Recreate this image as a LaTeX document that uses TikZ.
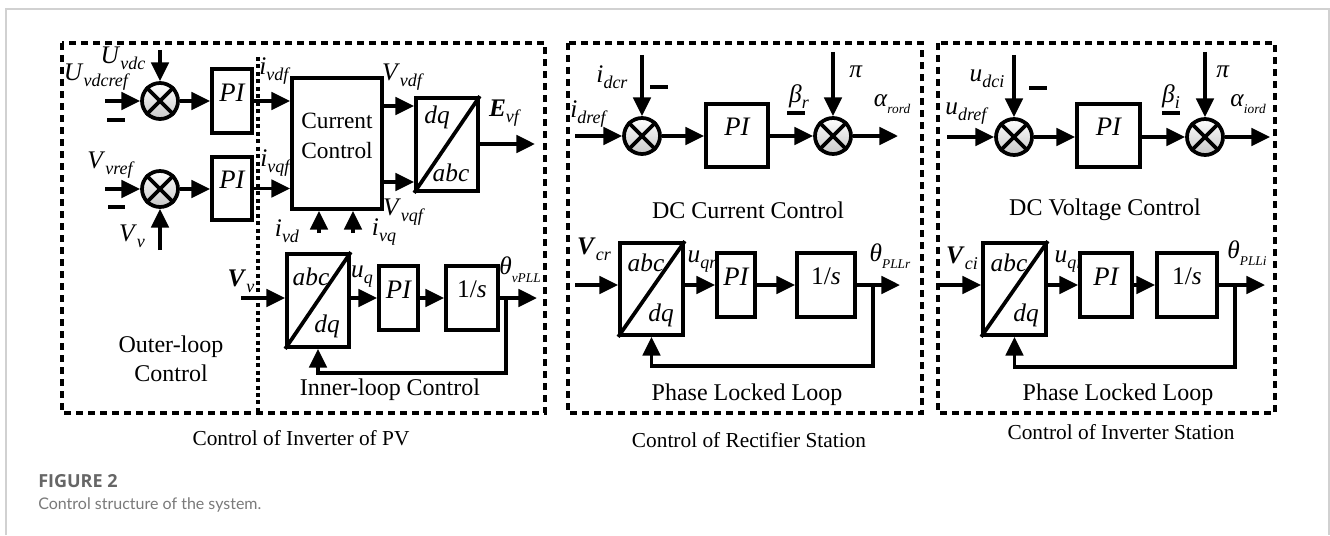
\documentclass[tikz,border=0pt]{standalone}
\usepackage{fontspec}
\setmainfont{Liberation Serif}
\newfontfamily\capfont{Lato}
\newfontfamily\figfont{Open Sans}
\usetikzlibrary{arrows.meta,fit}

% italic symbol with italic subscript
\newcommand{\symsub}[2]{\textit{#1}\raisebox{-0.24em}{\fontsize{13.5pt}{13.5pt}\selectfont\textit{#2}}}
\newcommand{\bsymsub}[2]{\textbf{\textit{#1}}\raisebox{-0.24em}{\fontsize{13.5pt}{13.5pt}\selectfont\textit{#2}}}
\newcommand{\symtiny}[2]{\textit{#1}\raisebox{-0.3em}{\fontsize{10pt}{10pt}\selectfont\textit{#2}}}

\begin{document}
\begin{tikzpicture}[x=0.75pt,y=-0.75pt,
  wire/.style={line width=2.8pt,-{Triangle[length=14pt,width=13pt]}},
  plain/.style={line width=2.8pt},
  minus/.style={line width=3.4pt},
  blk/.style={draw,line width=2.8pt,rectangle,inner sep=0pt,fill=white,
    font=\fontsize{20pt}{20pt}\selectfont\itshape},
  sum/.style={draw,circle,line width=2.8pt,minimum size=27pt,inner sep=0pt,
    top color=white,bottom color=black!22},
  lbl/.style={inner sep=0pt,font=\fontsize{19pt}{19pt}\selectfont},
  itxt/.style={inner sep=0pt,font=\fontsize{19pt}{19pt}\selectfont\itshape},
  rtxt/.style={inner sep=0pt,font=\fontsize{18pt}{22pt}\selectfont},
  captxt/.style={inner sep=0pt,font=\fontsize{16pt}{16pt}\selectfont},
  dbox/.style={line width=3pt,dash pattern=on 5.4pt off 3.6pt},
  dline/.style={line width=2.4pt,dash pattern=on 3pt off 2.6pt},
]
\useasboundingbox (0,0) rectangle (1330,535);
\fill[white] (0,0) rectangle (1330,535);
\draw[black!18,line width=1.5pt] (6,535) -- (6,9) -- (1329,9) -- (1329,535);

% ---------- frames ----------
\draw[dbox] (62,43) rectangle (545,413);
\draw[dbox] (568,43) rectangle (922,413);
\draw[dbox] (938,43) rectangle (1275,413);
\draw[dline] (258,57) -- (258,413);

% ---------- PV inverter: outer loops ----------
\node[sum] (s1) at (160,101) {};
\node[sum] (s2) at (160,189) {};
\node[blk,fit={(212,69)(252,133)}] (pi1) {PI};
\node[blk,fit={(212,157)(252,220)}] (pi2) {PI};
\node[blk,fit={(292,78)(382,209)},align=center,
  font=\fontsize{17.5pt}{22pt}\selectfont] (cc) {Current\\Control};
\node[blk,fit={(416,98)(478,191)}] (t1) {};
\draw[plain] (t1.south west) -- (t1.north east);
\node[itxt] (t1a) at (437,117) {dq};
\node[itxt] (t1b) at (451,173) {abc};

\draw[plain] (s1.45) -- (s1.225) (s1.135) -- (s1.315);
\draw[plain] (s2.45) -- (s2.225) (s2.135) -- (s2.315);

\coordinate (uvref) at (105,101);
\coordinate (uvdc) at (160,50);
\coordinate (vvref) at (105,189);
\coordinate (vvmeas) at (160,250);
\draw[wire] (uvref) -- (s1);
\draw[wire] (uvdc) -- (s1);
\draw[wire] (vvref) -- (s2);
\draw[wire] (vvmeas) -- (s2);
\draw[wire] (s1.east) -- (s1.east -| pi1.west);
\draw[wire] (s2.east) -- (s2.east -| pi2.west);
\draw[wire] (pi1.east) -- (pi1.east -| cc.west);
\draw[wire] (pi2.east) -- (pi2.east -| cc.west);
\draw[wire] (cc.east |- 0,106) -- (t1.west |- 0,106);
\draw[wire] (cc.east |- 0,182) -- (t1.west |- 0,182);
\coordinate (evf) at (535,144);
\draw[wire] (t1.east |- evf) -- (evf);
\coordinate (ivdin) at (319,233);
\coordinate (ivqin) at (353,233);
\draw[wire] (ivdin) -- (ivdin |- cc.south);
\draw[wire] (ivqin) -- (ivqin |- cc.south);
\draw[minus] (107,120) -- (125,120);
\draw[minus] (108,207) -- (125,207);

\node[lbl] (lUvdc) at (123,58) {\symsub{U}{vdc}};
\node[lbl] (lUref) at (97,77) {\symsub{U}{vdcref}};
\node[lbl] (lVref) at (111,165) {\symsub{V}{vref}};
\node[lbl] (lVv) at (132,236) {\symsub{V}{v}};
\node[lbl] (livdf) at (275,71) {\symsub{i}{vdf}};
\node[lbl] (livqf) at (276,163) {\symsub{i}{vqf}};
\node[lbl] (lVvdf) at (403,77) {\symsub{V}{vdf}};
\node[lbl] (lVvqf) at (404,212) {\symsub{V}{vqf}};
\node[lbl] (lEvf) at (505,113) {\bsymsub{E}{vf}};
\node[lbl] (livd) at (287,231) {\symsub{i}{vd}};
\node[lbl] (livq) at (384,232) {\symsub{i}{vq}};

% ---------- PV inverter: PLL ----------
\node[blk,fit={(287,254)(349,347)}] (t2) {};
\draw[plain] (t2.south west) -- (t2.north east);
\node[itxt] (t2a) at (311,277) {abc};
\node[itxt] (t2b) at (327,326) {dq};
\node[blk,fit={(379,266)(418,330)}] (pi3) {PI};
\node[blk,fit={(446,266)(498,330)},font=\fontsize{19pt}{19pt}\selectfont] (is1) {1/\textit{s}};
\coordinate (vvin) at (241,298);
\coordinate (th1) at (537,298);
\coordinate (fb1) at (506,298);
\draw[wire] (vvin) -- (vvin -| t2.west);
\draw[wire] (t2.east |- pi3) -- (pi3.west);
\draw[wire] (pi3.east) -- (is1.west);
\draw[wire] (is1.east) -- (th1);
\draw[wire] (fb1) -- (fb1 |- 0,373) -| (t2.south);
\node[lbl] (lVv2) at (241,281) {\bsymsub{V}{v}};
\node[lbl] (luq) at (362,277) {\symsub{u}{q}};
\node[lbl] (lth1) at (520,270) {\symtiny{θ}{vPLL}};
\node[rtxt,align=center] (lout) at (171,359) {Outer-loop\\Control};
\node[rtxt] (linn) at (390,390) {Inner-loop Control};

% ---------- rectifier station ----------
\node[sum] (s3) at (642,136) {};
\node[sum] (s4) at (833,136) {};
\draw[plain] (s3.45) -- (s3.225) (s3.135) -- (s3.315);
\draw[plain] (s4.45) -- (s4.225) (s4.135) -- (s4.315);
\node[blk,fit={(706,104)(768,167)}] (pi4) {PI};
\coordinate (idref) at (575,136);
\coordinate (idcr) at (642,55);
\coordinate (pir) at (833,52);
\coordinate (aro) at (898,136);
\draw[wire] (idref) -- (s3);
\draw[wire] (idcr) -- (s3);
\draw[wire] (s3.east) -- (s3.east -| pi4.west);
\draw[wire] (pi4.east |- s4) -- (s4);
\draw[wire] (pir) -- (s4);
\draw[wire] (s4) -- (aro);
\draw[minus] (650,87) -- (668,87);
\draw[minus] (787,113) -- (805,113);
\node[lbl] (lidcr) at (612,77) {\symsub{i}{dcr}};
\node[lbl] (lidref) at (589,114) {\symsub{i}{dref}};
\node[lbl] (lbr) at (799,97) {\symsub{β}{r}};
\node[lbl] (lpir) at (856,72) {\textit{π}};
\node[lbl] (laro) at (892,104) {\symtiny{α}{rord}};
\node[rtxt] (ldcc) at (748,210) {DC Current Control};

\node[blk,fit={(620,243)(683,335)}] (t3) {};
\draw[plain] (t3.south west) -- (t3.north east);
\node[itxt] (t3a) at (646,263) {abc};
\node[itxt] (t3b) at (661,315) {dq};
\node[blk,fit={(717,253)(755,317)}] (pi5) {PI};
\node[blk,fit={(797,253)(855,317)},font=\fontsize{19pt}{19pt}\selectfont] (is2) {1/\textit{s}};
\coordinate (vcr) at (575,285);
\coordinate (th2) at (900,285);
\coordinate (fb2) at (873,285);
\draw[wire] (vcr) -- (vcr -| t3.west);
\draw[wire] (t3.east |- pi5) -- (pi5.west);
\draw[wire] (pi5.east) -- (is2.west);
\draw[wire] (is2.east) -- (th2);
\draw[wire] (fb2) -- (fb2 |- 0,366) -| (t3.south);
\node[lbl] (lVcr) at (594,249) {\bsymsub{V}{cr}};
\node[lbl] (luqr) at (702,262) {\symsub{u}{qr}};
\node[lbl] (lth2) at (890,256) {\symtiny{θ}{PLLr}};
\node[rtxt] (lpll2) at (747,395) {Phase Locked Loop};

% ---------- inverter station ----------
\node[sum] (s5) at (1014,137) {};
\node[sum] (s6) at (1205,137) {};
\draw[plain] (s5.45) -- (s5.225) (s5.135) -- (s5.315);
\draw[plain] (s6.45) -- (s6.225) (s6.135) -- (s6.315);
\node[blk,fit={(1077,104)(1140,167)}] (pi6) {PI};
\coordinate (udref) at (947,137);
\coordinate (udci) at (1014,55);
\coordinate (pii) at (1205,52);
\coordinate (aio) at (1270,137);
\draw[wire] (udref) -- (s5);
\draw[wire] (udci) -- (s5);
\draw[wire] (s5.east) -- (s5.east -| pi6.west);
\draw[wire] (pi6.east |- s6) -- (s6);
\draw[wire] (pii) -- (s6);
\draw[wire] (s6) -- (aio);
\draw[minus] (1029,88) -- (1047,88);
\draw[minus] (1162,113) -- (1180,113);
\node[lbl] (ludci) at (987,79) {\symsub{u}{dci}};
\node[lbl] (ludref) at (967,114) {\symsub{u}{dref}};
\node[lbl] (lbi) at (1171,97) {\symsub{β}{i}};
\node[lbl] (lpii) at (1223,72) {\textit{π}};
\node[lbl] (laio) at (1248,104) {\symtiny{α}{iord}};
\node[rtxt] (ldvc) at (1105,210) {DC Voltage Control};

\node[blk,fit={(983,243)(1046,335)}] (t4) {};
\draw[plain] (t4.south west) -- (t4.north east);
\node[itxt] (t4a) at (1009,263) {abc};
\node[itxt] (t4b) at (1026,315) {dq};
\node[blk,fit={(1080,253)(1132,317)}] (pi7) {PI};
\node[blk,fit={(1157,253)(1217,317)},font=\fontsize{19pt}{19pt}\selectfont] (is3) {1/\textit{s}};
\coordinate (vci) at (938,285);
\coordinate (th3) at (1265,285);
\coordinate (fb3) at (1235,285);
\draw[wire] (vci) -- (vci -| t4.west);
\draw[wire] (t4.east |- pi7) -- (pi7.west);
\draw[wire] (pi7.east) -- (is3.west);
\draw[wire] (is3.east) -- (th3);
\draw[wire] (fb3) -- (fb3 |- 0,367) -| (t4.south);
\node[lbl] (lVci) at (962,258) {\bsymsub{V}{ci}};
\node[lbl] (luqi) at (1068,262) {\symsub{u}{qi}};
\node[lbl] (lth3) at (1247,253) {\symtiny{θ}{PLLi}};
\node[rtxt] (lpll3) at (1118,395) {Phase Locked Loop};

% ---------- captions ----------
\node[captxt] (c1) at (301,438) {Control of Inverter of PV};
\node[captxt] (c2) at (749,440) {Control of Rectifier Station};
\node[captxt] (c3) at (1121,432) {Control of Inverter Station};
\node[anchor=west,inner sep=0pt,text=black!60,font=\figfont\bfseries\fontsize{13.5pt}{13.5pt}\selectfont] (fig) at (38,481) {FIGURE 2};
\node[anchor=west,inner sep=0pt,text=black!52,font=\capfont\fontsize{12pt}{12pt}\selectfont] (figcap) at (38,505) {Control structure of the system.};
\end{tikzpicture}
\end{document}
